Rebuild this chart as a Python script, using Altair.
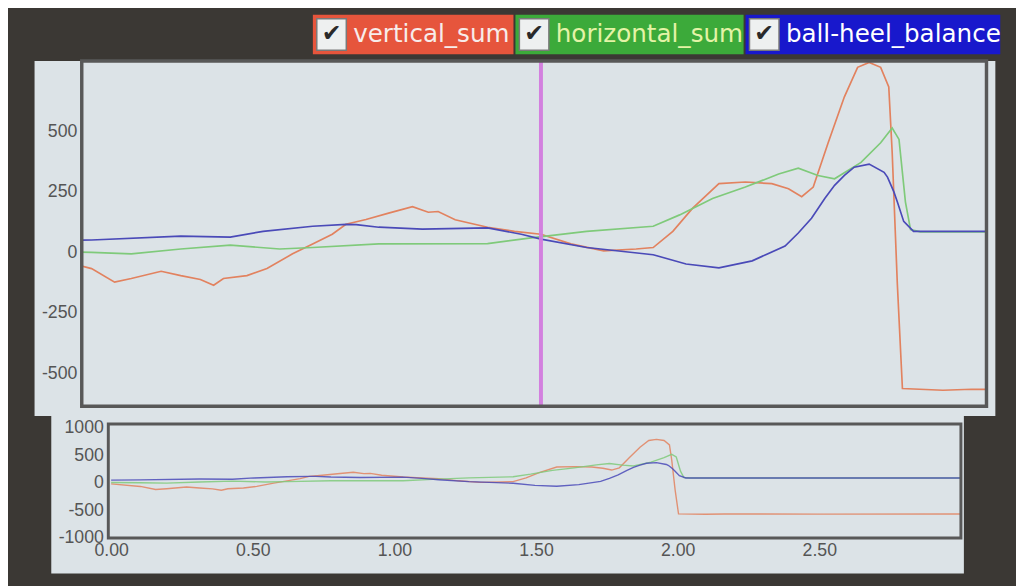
import altair as alt
import pandas as pd

# ---------------- data ----------------
series = ["vertical_sum", "horizontal_sum", "ball-heel_balance"]
line_colors = ["#e2825f", "#7fca7a", "#4a4ab8"]

vert_t = [0.000, 0.103, 0.157, 0.196, 0.266, 0.312, 0.358, 0.389, 0.412, 0.467,
          0.514, 0.574, 0.621, 0.667, 0.699, 0.746, 0.799, 0.855, 0.892, 0.915,
          0.955, 1.031, 1.094, 1.156, 1.226, 1.303, 1.379, 1.419, 1.465, 1.511,
          1.573, 1.635, 1.697, 1.736, 1.767, 1.794, 1.829, 1.867, 1.898, 1.925,
          1.952, 1.971, 1.979, 1.991, 2.003, 2.098, 2.165, 2.500, 3.000]
vert_v = [-20, -67, -123, -108, -78, -96, -112, -136, -108, -96,
          -67, -6, 35, 75, 116, 136, 162, 189, 166, 169,
          135, 104, 87, 75, 35, 6, 14, 20, 87, 182,
          284, 291, 284, 263, 230, 270, 453, 643, 765, 785,
          765, 684, 413, -128, -563, -570, -566, -567, -565]

horiz_t = [0.000, 0.103, 0.196, 0.312, 0.428, 0.544, 0.621, 0.776, 1.031, 1.133,
           1.263, 1.419, 1.481, 1.558, 1.635, 1.713, 1.759, 1.805, 1.844, 1.906,
           1.952, 1.979, 1.995, 2.010, 2.022, 2.045, 2.500, 3.000]
horiz_v = [5, 0, -6, 14, 30, 14, 20, 35, 36, 60,
           87, 108, 155, 223, 270, 324, 348, 318, 304, 372,
           453, 514, 467, 209, 94, 85, 85, 85]

bal_t = [0.000, 0.103, 0.312, 0.428, 0.505, 0.621, 0.699, 0.723, 0.776, 0.878,
         1.031, 1.110, 1.156, 1.263, 1.419, 1.496, 1.573, 1.651, 1.728, 1.759,
         1.790, 1.821, 1.844, 1.867, 1.890, 1.925, 1.960, 1.968, 1.983, 1.991,
         2.006, 2.029, 2.500, 3.000]
bal_v = [48, 51, 67, 63, 87, 108, 116, 115, 104, 96,
         101, 75, 55, 20, -10, -48, -64, -35, 26, 80,
         141, 223, 277, 318, 352, 365, 331, 311, 250, 209,
         128, 87, 87, 87]

marker_t = [1.156]

top_x_domain = [0.08, 2.2]
top_y_domain = [-636, 791]
top_y_ticks = [-500, -250, 0, 250, 500]
bot_x_domain = [-0.01, 3.0]
bot_x_ticks = [0.0, 0.5, 1.0, 1.5, 2.0, 2.5]
bot_y_domain = [-1000, 1065]
bot_y_ticks = [-1000, -500, 0, 500, 1000]

rows = []
for name, ts, vs in [(series[0], vert_t, vert_v),
                     (series[1], horiz_t, horiz_v),
                     (series[2], bal_t, bal_v)]:
    for t, v in zip(ts, vs):
        rows.append({"series": name, "t": t, "value": v})
df = pd.DataFrame(rows)
marker_df = pd.DataFrame({"t": marker_t})
one = pd.DataFrame({"k": [0]})

# ---------------- style / layout (pixels, relative to the detail plot) ----------------
BG = "#3b3834"
PANEL = "#dce3e7"
FRAME = "#585858"
W, H = 920, 485            # whole drawing area: detail plot on top, overview below
TOP_H = 351                # detail plot height
BOT_X = [27, 894]          # overview plot, x pixel range
BOT_Y = [485, 369]         # overview plot, y pixel range (bottom, top)

box_colors = ["#e6553c", "#3caa3a", "#1818cc"]
box_text_colors = ["#f7ecea", "#e4f3a6", "#ffffff"]
box_left = [235, 441, 675]
box_right = [439, 673, 934]

color = alt.Color("series:N", scale=alt.Scale(domain=series, range=line_colors), legend=None)
label_expr = "'' + datum.value"


def deco_rect(x, x2, y, y2, **kw):
    return alt.Chart(one).mark_rect(**kw).encode(
        x=alt.value(x), x2=alt.value(x2), y=alt.value(y), y2=alt.value(y2))


def y_axis(values, size, offset):
    return alt.Axis(values=values, title="", ticks=False, domain=False, grid=False,
                    orient="left", offset=offset, labelExpr=label_expr,
                    labelFont="Liberation Sans", labelFontSize=size,
                    labelColor="#555555", labelPadding=5, zindex=1)


layers = [
    deco_rect(-48, W + 9, 0, TOP_H + 10, color=PANEL),
    deco_rect(-31, BOT_X[1] + 3, TOP_H + 10, BOT_Y[0] + 36, color=PANEL),
    # detail plot
    alt.Chart(df).mark_line(clip=True, strokeWidth=1.7).encode(
        x=alt.X("t:Q", scale=alt.Scale(domain=top_x_domain, range=[0, W], nice=False, zero=False),
                axis=None),
        y=alt.Y("value:Q", scale=alt.Scale(domain=top_y_domain, range=[TOP_H, 0], nice=False,
                                           zero=False),
                axis=y_axis(top_y_ticks, 18, 0)),
        color=color,
    ),
    alt.Chart(marker_df).mark_rule(color="#d27ade", strokeWidth=4, opacity=0.95).encode(
        x=alt.X("t:Q", scale=alt.Scale(domain=top_x_domain, range=[0, W], nice=False, zero=False),
                axis=None),
        y=alt.value(0), y2=alt.value(TOP_H)),
    deco_rect(0, W, 0, TOP_H, fillOpacity=0, stroke=FRAME, strokeWidth=3.5),
    # overview plot
    alt.Chart(df).mark_line(clip=True, strokeWidth=1.4, opacity=0.85).encode(
        x=alt.X("t:Q", scale=alt.Scale(domain=bot_x_domain, range=BOT_X, nice=False, zero=False),
                axis=alt.Axis(values=bot_x_ticks, format=".2f", title="", ticks=False,
                              domain=False, grid=False, orient="bottom",
                              labelFont="Liberation Sans", labelFontSize=18,
                              labelColor="#555555", labelPadding=4, zindex=1)),
        y=alt.Y("value:Q", scale=alt.Scale(domain=bot_y_domain, range=BOT_Y, nice=False,
                                           zero=False),
                axis=y_axis(bot_y_ticks, 18, -BOT_X[0])),
        color=color,
    ),
    deco_rect(BOT_X[0], BOT_X[1], BOT_Y[1], BOT_Y[0], fillOpacity=0, stroke=FRAME,
              strokeWidth=3),
]
for i, name in enumerate(series):
    bl, br = box_left[i], box_right[i]
    layers.append(deco_rect(bl, br, -47, -7, color=box_colors[i]))
    layers.append(deco_rect(bl + 4, bl + 34, -43, -11, fill="#eef0f0",
                            stroke="#7a7a7a", strokeWidth=1.5))
    layers.append(alt.Chart(one).mark_text(
        text="✔", font="DejaVu Sans", fontSize=24, color="#2a2a2a",
        align="center", baseline="middle").encode(x=alt.value(bl + 19), y=alt.value(-27)))
    layers.append(alt.Chart(one).mark_text(
        text=name, font="DejaVu Sans", fontSize=25, color=box_text_colors[i],
        align="left", baseline="middle").encode(x=alt.value(bl + 41), y=alt.value(-27)))

chart = alt.layer(*layers).resolve_scale(x="independent", y="independent").properties(
    width=W, height=H,
    autosize=alt.AutoSizeParams(type="none"),
    padding={"left": 75, "top": 49, "right": 30, "bottom": 50},
    background=BG,
).configure_view(strokeWidth=0)

chart.save("out.html", embed_options={"renderer": "svg", "actions": False})
